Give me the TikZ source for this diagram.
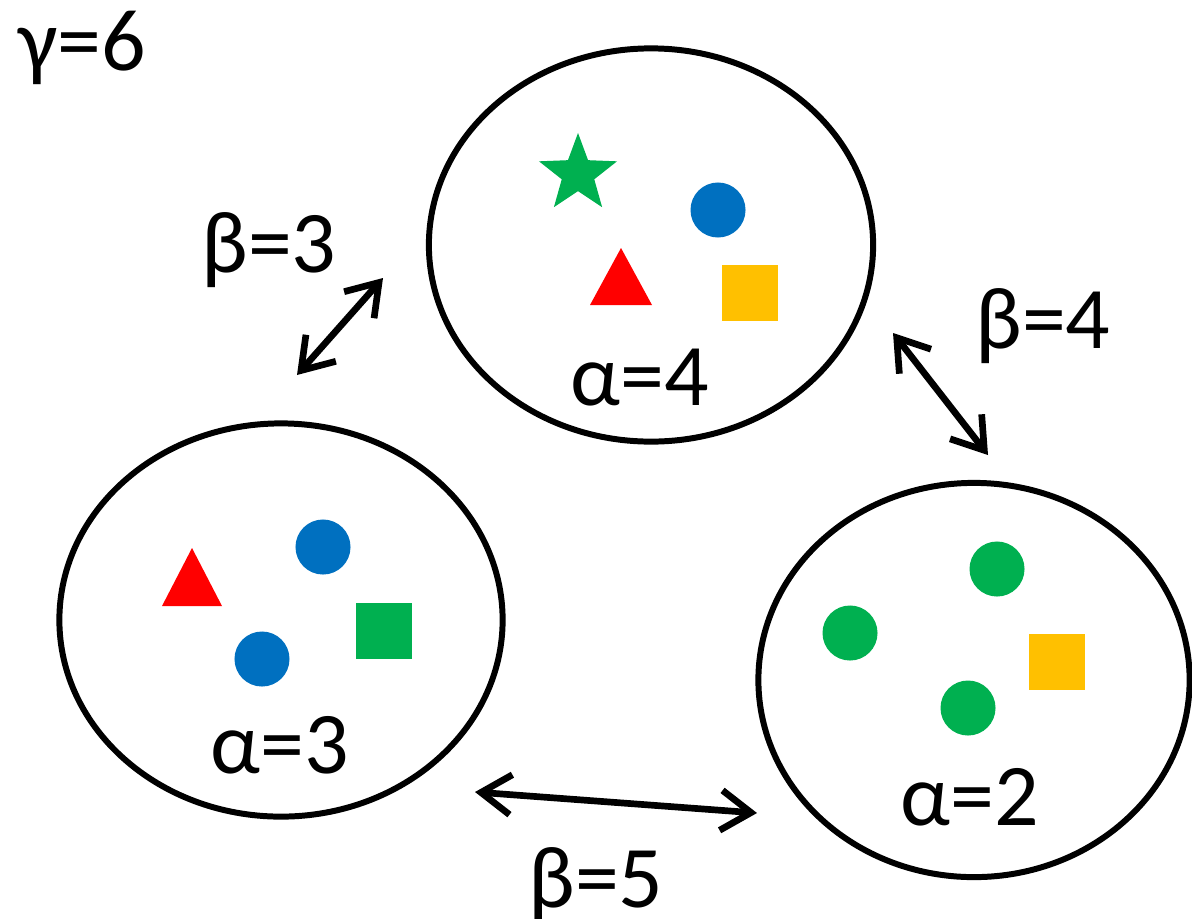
\documentclass[tikz,border=0pt]{standalone}
\usepackage{fontspec}
\setmainfont{Carlito}
\usetikzlibrary{shapes.geometric, arrows.meta}
\definecolor{setgreen}{HTML}{00B050}
\definecolor{setblue}{HTML}{0070C0}
\definecolor{setred}{HTML}{FF0000}
\definecolor{setyellow}{HTML}{FFC000}

\begin{document}
\begin{tikzpicture}[x=0.01cm, y=-0.01cm,
    every node/.style={font=\fontsize{25}{30}\selectfont},
    setring/.style={draw, ellipse, line width=1.7pt, inner sep=0pt},
    dot/.style={circle, inner sep=0pt, minimum size=0.55cm},
    box/.style={rectangle, inner sep=0pt, minimum size=0.56cm},
    link/.style={{Straight Barb[length=3mm,width=4mm]}-{Straight Barb[length=3mm,width=4mm]}, line width=1.9pt},
    lbl/.style={anchor=base, inner sep=0pt}]
  \useasboundingbox (0,0) rectangle (1192,918);

  % the three sets
  \node[setring, minimum width=4.44cm, minimum height=3.93cm] (topset) at (651,245) {};
  \node[setring, minimum width=4.43cm, minimum height=3.93cm] (leftset) at (281,620) {};
  \node[setring, minimum width=4.31cm, minimum height=3.94cm] (rightset) at (974,680) {};

  % top set
  \node[star, star points=5, star point ratio=2.4, fill=setgreen, inner sep=0pt, minimum size=0.82cm] (topstar) at (578,174) {};
  \node[dot, fill=setblue] (topdot) at (718,210) {};
  \fill[setred] (621,248) -- (652,305) -- (590,305) -- cycle;
  \node[box, fill=setyellow] (topbox) at (750,293) {};
  \node[lbl] (alphatop) at (640,405) {α=4};

  % left set
  \fill[setred] (192,548) -- (222,606) -- (162,606) -- cycle;
  \node[dot, fill=setblue] (leftdota) at (323,547) {};
  \node[dot, fill=setblue] (leftdotb) at (262,659) {};
  \node[box, fill=setgreen] (leftbox) at (384,631) {};
  \node[lbl] (alphaleft) at (280,773) {α=3};

  % right set
  \node[dot, fill=setgreen] (rightdota) at (997,569) {};
  \node[dot, fill=setgreen] (rightdotb) at (850,633) {};
  \node[dot, fill=setgreen] (rightdotc) at (968,708) {};
  \node[box, fill=setyellow] (rightbox) at (1057,662) {};
  \node[lbl] (alpharight) at (970,825) {α=2};

  % links between sets
  \coordinate (lefttop) at (297,375);
  \coordinate (topleft) at (383,278);
  \coordinate (topright) at (893,333);
  \coordinate (righttop) at (988,455);
  \coordinate (leftright) at (475,792);
  \coordinate (rightleft) at (757,813);
  \draw[link] (lefttop) -- (topleft);
  \draw[link] (topright) -- (righttop);
  \draw[link] (leftright) -- (rightleft);

  \node[lbl] (betathree) at (269,272) {β=3};
  \node[lbl] (betafour) at (1043,348) {β=4};
  \node[lbl] (betafive) at (596,907) {β=5};
  \node[lbl] (gamma) at (82,70) {γ=6};
\end{tikzpicture}
\end{document}
